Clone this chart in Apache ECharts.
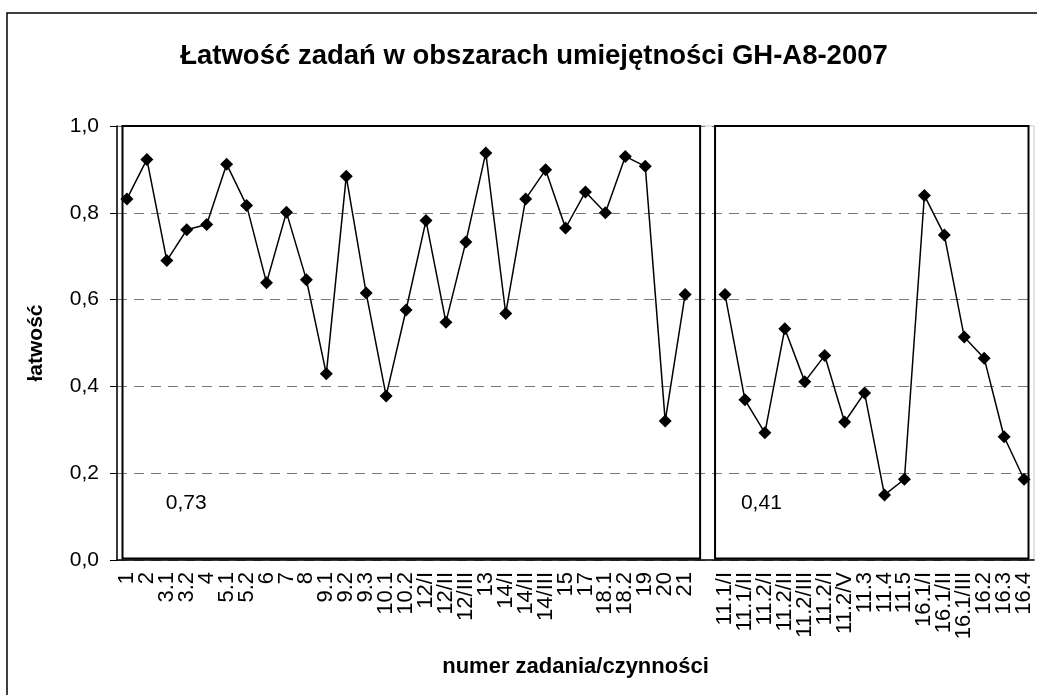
<!DOCTYPE html>
<html lang="pl">
<head>
    <meta charset="UTF-8">
    <title>Łatwość zadań GH-A8-2007</title>
    <script src="https://cdn.jsdelivr.net/npm/echarts@6/dist/echarts.min.js"></script>
    <style>
        html, body { margin: 0; padding: 0; background: #fff; }
        #container { width: 1037px; height: 695px; }
    </style>
</head>
<body>
<div id="container"></div>
<script type="text/javascript">
    // zadania - pierwszy obszar
    var leftTasks = ['1', '2', '3.1', '3.2', '4', '5.1', '5.2', '6', '7', '8', '9.1', '9.2', '9.3', '10.1', '10.2',
        '12/I', '12/II', '12/III', '13', '14/I', '14/II', '14/III', '15', '17', '18.1', '18.2', '19', '20', '21'];
    var leftValues = [0.832, 0.923, 0.690, 0.761, 0.773, 0.912, 0.817, 0.639, 0.801, 0.646, 0.429, 0.884, 0.615, 0.378, 0.576,
        0.782, 0.548, 0.733, 0.938, 0.568, 0.832, 0.899, 0.765, 0.848, 0.800, 0.930, 0.907, 0.320, 0.612];
    // zadania - drugi obszar
    var rightTasks = ['11.1/I', '11.1/II', '11.2/I', '11.2/II', '11.2/III', '11.2/I', '11.2/V', '11.3', '11.4', '11.5',
        '16.1/I', '16.1/II', '16.1/III', '16.2', '16.3', '16.4'];
    var rightValues = [0.612, 0.369, 0.293, 0.533, 0.411, 0.471, 0.318, 0.385, 0.150, 0.186,
        0.840, 0.749, 0.514, 0.465, 0.284, 0.186];
    // srednia latwosc obszarow
    var areaMeans = [0.73, 0.41];
    var yTicks = [0, 0.2, 0.4, 0.6, 0.8, 1.0];

    var categories = leftTasks.concat(['']).concat(rightTasks);
    var values = leftValues.concat([null]).concat(rightValues);
    var gapIndex = leftTasks.length;

    function pl(v, d) {
        return v.toFixed(d).replace('.', ',');
    }

    var FONT = '"Liberation Sans", Arial, sans-serif';

    var myChart = echarts.init(document.getElementById('container'));
    var option = {
        animation: false,
        backgroundColor: '#fff',
        textStyle: { fontFamily: FONT },
        title: {
            text: 'Łatwość zadań w obszarach umiejętności GH-A8-2007',
            left: 529,
            textAlign: 'center',
            top: 37,
            textStyle: { fontFamily: FONT, fontSize: 27.5, fontWeight: 'bold', color: '#000' }
        },
        grid: {
            left: 117, right: 3, top: 126, bottom: 135,
            show: true, borderColor: '#c8c8c8', borderWidth: 1, backgroundColor: '#fff'
        },
        xAxis: {
            type: 'category',
            data: categories,
            boundaryGap: true,
            name: 'numer zadania/czynności',
            nameLocation: 'middle',
            nameGap: 96,
            nameTextStyle: { fontFamily: FONT, fontSize: 22, fontWeight: 'bold', color: '#000' },
            axisLine: { lineStyle: { color: '#000', width: 1.5 } },
            axisTick: { interval: 0, length: 7, lineStyle: { color: '#000', width: 1 } },
            axisLabel: { interval: 0, rotate: 90, margin: 12, fontSize: 22, color: '#000', fontFamily: FONT },
            splitLine: { show: false }
        },
        yAxis: {
            type: 'value',
            min: 0, max: 1, interval: 0.2,
            name: 'łatwość',
            nameLocation: 'middle',
            nameGap: 70,
            nameTextStyle: { fontFamily: FONT, fontSize: 21, fontWeight: 'bold', color: '#000' },
            axisLine: { show: true, lineStyle: { color: '#000', width: 1.5 } },
            axisTick: { show: true, length: 7, lineStyle: { color: '#000' } },
            axisLabel: {
                margin: 18, fontSize: 21, color: '#000', fontFamily: FONT,
                formatter: function (v) {
                    return yTicks.indexOf(Math.round(v * 10) / 10) >= 0 ? pl(v, 1) : '';
                }
            },
            splitLine: { show: true, lineStyle: { color: '#777', width: 1.2, type: [10, 7] } }
        },
        series: [{
            name: 'łatwość',
            type: 'line',
            data: values,
            connectNulls: false,
            symbol: 'diamond',
            symbolSize: 13,
            lineStyle: { color: '#000', width: 1.5 },
            itemStyle: { color: '#000' },
            z: 5
        }]
    };
    myChart.setOption(option);

    // ramki obszarow i srednie - liczone z osi
    var x0 = myChart.convertToPixel({ xAxisIndex: 0 }, 0);
    var x1 = myChart.convertToPixel({ xAxisIndex: 0 }, 1);
    var bw = x1 - x0;
    var yTop = myChart.convertToPixel({ yAxisIndex: 0 }, 1);
    var yBot = myChart.convertToPixel({ yAxisIndex: 0 }, 0);
    var yMean = myChart.convertToPixel({ yAxisIndex: 0 }, 0.13);
    var xLeftStart = x0 - bw / 2 + 5.5;
    var xLeftEnd = myChart.convertToPixel({ xAxisIndex: 0 }, gapIndex) - bw / 2 + 5;
    var xRightStart = myChart.convertToPixel({ xAxisIndex: 0 }, gapIndex + 1) - bw / 2;
    var xRightEnd = myChart.convertToPixel({ xAxisIndex: 0 }, categories.length - 1) + bw / 2 - 5.5;

    myChart.setOption({
        graphic: [
            {
                type: 'rect', z: 1, silent: true,
                shape: { x: 7, y: 13, width: 1060, height: 720 },
                style: { fill: null, stroke: '#000', lineWidth: 1.5 }
            },
            {
                type: 'rect', z: 10, silent: true,
                shape: { x: xLeftStart, y: yTop, width: xLeftEnd - xLeftStart, height: yBot - yTop - 1.5 },
                style: { fill: null, stroke: '#000', lineWidth: 2 }
            },
            {
                type: 'rect', z: 10, silent: true,
                shape: { x: xRightStart, y: yTop, width: xRightEnd - xRightStart, height: yBot - yTop - 1.5 },
                style: { fill: null, stroke: '#000', lineWidth: 2 }
            },
            {
                type: 'text', z: 10, silent: true,
                x: myChart.convertToPixel({ xAxisIndex: 0 }, 2) - 1, y: yMean,
                style: { text: pl(areaMeans[0], 2), font: '21px ' + FONT, fill: '#000', textVerticalAlign: 'middle' }
            },
            {
                type: 'text', z: 10, silent: true,
                x: myChart.convertToPixel({ xAxisIndex: 0 }, gapIndex + 2) - 4, y: yMean,
                style: { text: pl(areaMeans[1], 2), font: '21px ' + FONT, fill: '#000', textVerticalAlign: 'middle' }
            }
        ]
    });
</script>
</body>
</html>
